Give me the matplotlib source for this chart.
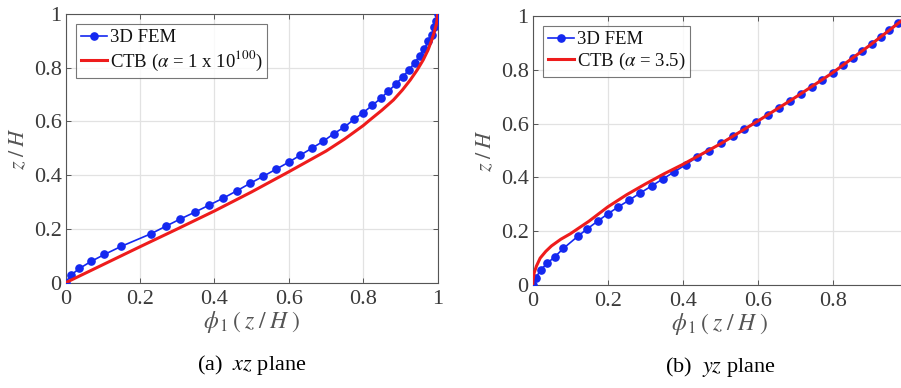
import matplotlib.pyplot as plt

plt.rcParams["font.family"] = ["Liberation Serif", "DejaVu Serif"]
plt.rcParams["mathtext.fontset"] = "stix"

# (a) xz plane
fem_xz_phi = [0.0, 0.013, 0.037, 0.068, 0.104, 0.149, 0.229, 0.269, 0.308, 0.348,
              0.386, 0.424, 0.460, 0.496, 0.531, 0.565, 0.599, 0.630, 0.661, 0.692,
              0.721, 0.749, 0.775, 0.800, 0.824, 0.847, 0.867, 0.888, 0.906, 0.923,
              0.938, 0.952, 0.964, 0.975, 0.984, 0.991, 0.996, 1.0]
fem_xz_z = [0.0, 0.027, 0.053, 0.079, 0.105, 0.135, 0.182, 0.210, 0.237, 0.263,
            0.289, 0.315, 0.342, 0.370, 0.396, 0.422, 0.448, 0.474, 0.500, 0.526,
            0.555, 0.579, 0.608, 0.633, 0.660, 0.686, 0.713, 0.739, 0.767, 0.792,
            0.819, 0.845, 0.871, 0.898, 0.923, 0.950, 0.975, 1.0]
ctb_xz_phi = [0.0, 0.1, 0.2, 0.3, 0.4, 0.5, 0.6, 0.7, 0.75, 0.8, 0.818, 0.85,
              0.881, 0.905, 0.926, 0.945, 0.961, 0.974, 0.984, 0.991, 0.997, 1.0]
ctb_xz_z = [0.0, 0.067, 0.134, 0.200, 0.267, 0.338, 0.413, 0.490, 0.535, 0.585,
            0.606, 0.642, 0.680, 0.717, 0.754, 0.792, 0.829, 0.866, 0.903, 0.934,
            0.965, 1.0]

# (b) yz plane
fem_yz_phi = [0.0, 0.009, 0.021, 0.039, 0.059, 0.082, 0.122, 0.146, 0.173, 0.200,
              0.228, 0.258, 0.287, 0.317, 0.347, 0.378, 0.408, 0.438, 0.470, 0.502,
              0.533, 0.564, 0.596, 0.627, 0.656, 0.686, 0.715, 0.744, 0.772, 0.800,
              0.827, 0.853, 0.879, 0.904, 0.928, 0.951, 0.973, 1.0]
fem_yz_z = [0.0, 0.027, 0.056, 0.081, 0.105, 0.136, 0.183, 0.209, 0.237, 0.264,
            0.290, 0.316, 0.342, 0.368, 0.394, 0.421, 0.447, 0.475, 0.499, 0.527,
            0.553, 0.580, 0.607, 0.632, 0.658, 0.685, 0.710, 0.737, 0.762, 0.789,
            0.817, 0.844, 0.870, 0.896, 0.922, 0.949, 0.975, 1.0]
ctb_yz_phi = [0.0, 0.001, 0.004, 0.01, 0.02, 0.035, 0.05, 0.075, 0.1, 0.15, 0.2,
              0.25, 0.3, 0.35, 0.4, 0.5, 0.6, 0.7, 0.8, 0.9, 1.0]
ctb_yz_z = [0.0, 0.020, 0.045, 0.070, 0.100, 0.125, 0.145, 0.170, 0.190, 0.237,
            0.290, 0.335, 0.375, 0.413, 0.448, 0.524, 0.609, 0.697, 0.789, 0.892,
            1.0]

ticks = [0, 0.2, 0.4, 0.6, 0.8, 1]
tick_labels = ["0", "0.2", "0.4", "0.6", "0.8", "1"]
# the "1" of panel (b) falls outside the cropped figure
tick_labels_b = ["0", "0.2", "0.4", "0.6", "0.8", ""]

BLUE = "#1428f0"
RED = "#ee1c1c"
GRID = "#e2e2e2"
TXT = "#3a3a3a"

fig = plt.figure(figsize=(9.01, 3.88), dpi=100)
ax_a = fig.add_axes([0.0729, 0.2714, 0.4129, 0.6925])
ax_b = fig.add_axes([0.5912, 0.2655, 0.4162, 0.6933])

panels = [
    (ax_a, fem_xz_phi, fem_xz_z, ctb_xz_phi, ctb_xz_z,
     r"CTB ($\alpha$ = 1 x 10$^{100}$)", "(a)  ", "xz", tick_labels),
    (ax_b, fem_yz_phi, fem_yz_z, ctb_yz_phi, ctb_yz_z,
     r"CTB ($\alpha$ = 3.5)", "(b)  ", "yz", tick_labels_b),
]

for ax, fx, fz, cx, cz, ctb_label, tag, plane, xlabels in panels:
    ax.plot(fx, fz, "-o", color=BLUE, lw=1.2, ms=5.2, mec=BLUE, mfc=BLUE,
            label="3D FEM", zorder=3)
    ax.plot(cx, cz, "-", color=RED, lw=2.2, label=ctb_label, zorder=4)
    ax.set_xlim(0, 1)
    ax.set_ylim(0, 1)
    ax.set_xticks(ticks)
    ax.set_xticklabels(xlabels)
    ax.set_yticks(ticks)
    ax.set_yticklabels(tick_labels)
    ax.grid(True, color=GRID, lw=0.9)
    ax.set_axisbelow(True)
    ax.tick_params(direction="in", top=True, right=True, length=3.5, width=0.7,
                   colors="#555555", labelcolor=TXT, labelsize=16)
    ax.tick_params(axis="x", pad=5)
    ax.tick_params(axis="y", pad=3)
    for sp in ax.spines.values():
        sp.set_color("#555555")
        sp.set_linewidth(0.8)
    ax.set_xlabel(r"$\phi_{\,1}\,(\;z\;/\;H\;)$", fontsize=17, color="#555555",
                  labelpad=0)
    ax.set_ylabel(r"$z\;/\;H$", fontsize=16, color="#555555", labelpad=3)
    leg = ax.legend(loc="upper left", fontsize=13.5, frameon=True, fancybox=False,
                    borderpad=0.25, handlelength=1.4, handletextpad=0.15,
                    labelspacing=0.15, borderaxespad=0.55)
    leg.get_frame().set_edgecolor("#555555")
    leg.get_frame().set_linewidth(0.8)
    for t in leg.get_texts():
        t.set_color("#111111")
    ax.text(0.5, -0.305, tag + r"$\mathit{" + plane + "}$ plane",
            transform=ax.transAxes, ha="center", va="center", fontsize=16)

fig.savefig("out.png", dpi=100)
